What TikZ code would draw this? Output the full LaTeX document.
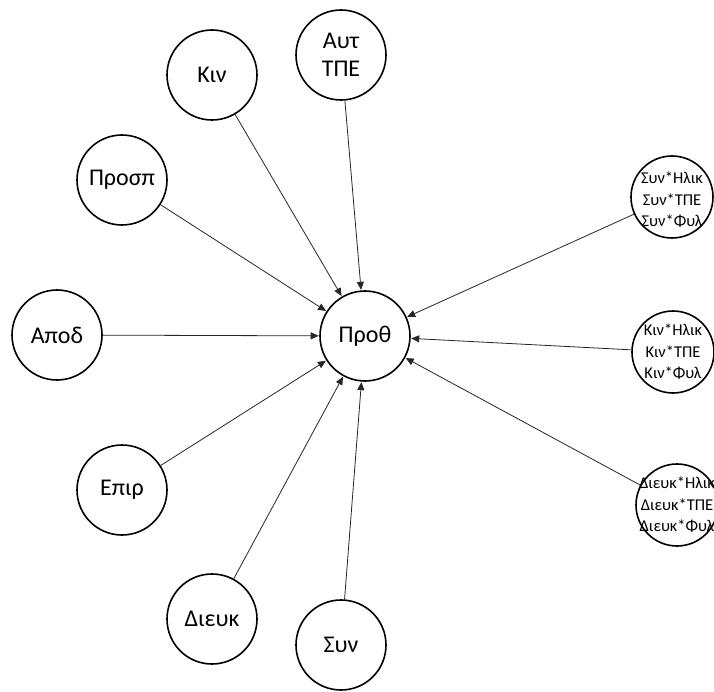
\documentclass[tikz,border=0pt]{standalone}
\usepackage{fontspec}
\setmainfont{Carlito}
\usetikzlibrary{arrows.meta}
\begin{document}
\begin{tikzpicture}[x=1pt,y=-1pt,
  bigc/.style={circle,draw=black,line width=1.6pt,minimum size=90pt,inner sep=0pt,font=\fontsize{24}{28}\selectfont,align=center},
  smallc/.style={circle,draw=black,line width=1.6pt,minimum size=82pt,inner sep=0pt},
  smalltxt/.style={inner sep=0pt,font=\fontsize{16.5}{21.5}\selectfont,align=center},
  conn/.style={draw=black!85,line width=0.8pt,-{Triangle[length=8pt,width=7pt]},shorten >=0.5pt}]
\useasboundingbox (0,0) rectangle (714,692);
\node[bigc] (proth) at (365,336) {Προθ};
\node[bigc] (aut) at (341,55) {Αυτ\\ΤΠΕ};
\node[bigc] (kin) at (212,75) {Κιν};
\node[bigc] (prosp) at (122,180) {Προσπ};
\node[bigc] (apod) at (57,335) {Αποδ};
\node[bigc] (epir) at (122,490) {Επιρ};
\node[bigc] (dieuk) at (212,619) {Διευκ};
\node[bigc] (syn) at (341,645) {Συν};
\node[smallc] (sx) at (672,197) {};
\node[smalltxt] at ([yshift=-3pt]sx) {Συν*Ηλικ\\Συν*ΤΠΕ\\Συν*Φυλ};
\node[smallc] (kx) at (673,352) {};
\node[smalltxt] at (kx) {Κιν*Ηλικ\\Κιν*ΤΠΕ\\Κιν*Φυλ};
\node[smallc] (dx) at (677,505) {};
\node[smalltxt] at (dx) {Διευκ*Ηλικ\\Διευκ*ΤΠΕ\\Διευκ*Φυλ};
\foreach \n in {aut,kin,prosp,apod,epir,dieuk,syn,sx,kx,dx}
  \draw[conn] (\n) -- (proth);
\end{tikzpicture}
\end{document}
